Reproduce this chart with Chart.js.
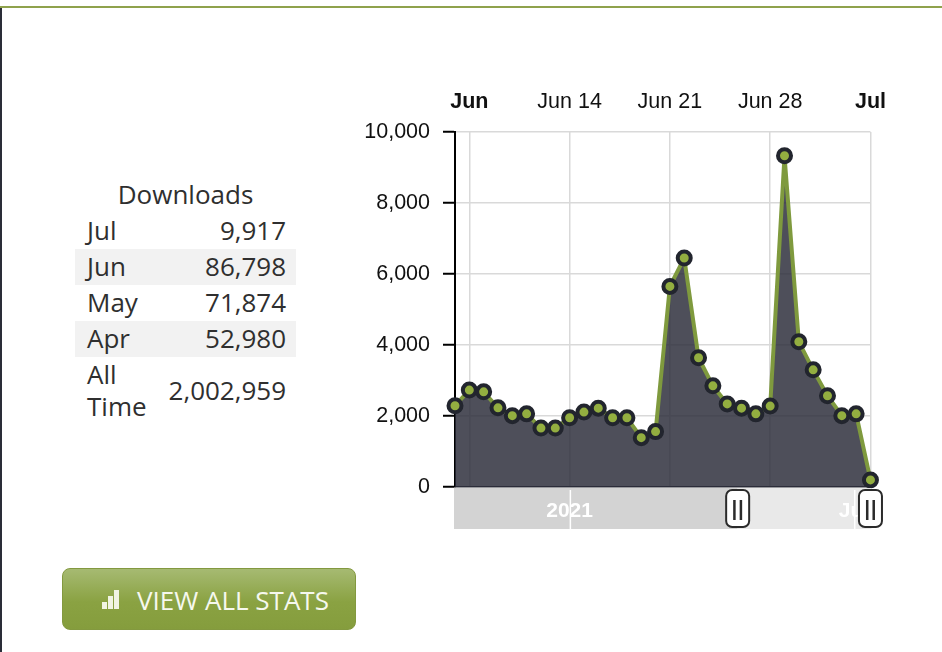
<!DOCTYPE html>
<html>
<head>
<meta charset="utf-8">
<script src="https://cdn.jsdelivr.net/npm/chart.js@4"></script>
<style>
html, body { margin: 0; padding: 0; background: #fff; overflow: hidden; }
body { width: 942px; height: 652px; position: relative; font-family: "Open Sans", sans-serif; color: #2f2f2f; }
#topLine { position: absolute; left: 0; top: 6px; width: 942px; height: 2px; background: #8fa24c; }
#leftLine { position: absolute; left: 0; top: 8px; width: 2px; height: 644px; background: #2a2d38; }
#stats { position: absolute; left: 75px; top: 177px; width: 221px; border-collapse: collapse; font-size: 26px; }
#stats caption { height: 36px; line-height: 34px; text-align: center; }
#stats td { padding: 0 10px 2px 12px; height: 34px; line-height: 32px; }
#stats td:last-child { text-align: right; }
#stats tr:nth-child(even) td { background: #f2f2f2; }
#stats tr:last-child td { height: 66px; }
#chartBox { position: absolute; left: 355px; top: 85px; width: 548px; height: 450px; }
#viewAll { position: absolute; left: 62px; top: 568px; width: 292px; height: 60px; border: 1px solid #83993f; border-radius: 8px;
  background: linear-gradient(#a6ba72, #8aa242 55%, #859d3d); color: #f6f8ee; font-size: 26px; line-height: 62px; }
#viewAll .label { position: absolute; left: 74px; top: 0; white-space: nowrap; }
#viewAll i { position: absolute; background: #f1f4e4; width: 4.5px; bottom: 20px; }
</style>
</head>
<body>
<div id="topLine"></div>
<div id="leftLine"></div>
<table id="stats"><caption>Downloads</caption><tbody></tbody></table>
<div id="chartBox"><canvas id="downloads"></canvas></div>
<div id="viewAll">
  <i style="left:39px;height:7px"></i><i style="left:45px;height:13px"></i><i style="left:51px;height:19px"></i>
  <span class="label">VIEW ALL STATS</span>
</div>
<script>
// table on the left
const periods = ["Jul", "Jun", "May", "Apr", "All Time"];
const totals = ["9,917", "86,798", "71,874", "52,980", "2,002,959"];

// daily downloads
const days = ["Jun 6","Jun 7","Jun 8","Jun 9","Jun 10","Jun 11","Jun 12","Jun 13","Jun 14","Jun 15",
  "Jun 16","Jun 17","Jun 18","Jun 19","Jun 20","Jun 21","Jun 22","Jun 23","Jun 24","Jun 25",
  "Jun 26","Jun 27","Jun 28","Jun 29","Jun 30","Jul 1","Jul 2","Jul 3","Jul 4","Jul 5"];
const downloads = [2290, 2730, 2680, 2230, 2010, 2060, 1660, 1660, 1950, 2110,
  2220, 1950, 1950, 1390, 1560, 5650, 6450, 3640, 2850, 2340,
  2220, 2060, 2280, 9330, 4090, 3300, 2570, 2010, 2060, 200];

// top axis labels
const tickDays = ["Jun 7", "Jun 14", "Jun 21", "Jun 28", "Jul 5"];
const tickLabels = ["Jun", "Jun 14", "Jun 21", "Jun 28", "Jul"];
const boldLabels = ["Jun", "Jul"];

// range selector under the plot
const rangeStart = "Jun 26";
const rangeOffset = -0.27;
const yearLabel = "2021";
const yearDay = "Jun 14";
const monthLabel = "Jul";
const monthDay = "Jul 4";
const monthOffset = -0.15;

const tbody = document.querySelector("#stats tbody");
periods.forEach(function (p, i) {
    const tr = document.createElement("tr");
    const a = document.createElement("td");
    const b = document.createElement("td");
    a.textContent = p;
    b.textContent = totals[i];
    if (p == "All Time") { a.style.width = "60px"; }
    tr.append(a, b);
    tbody.append(tr);
});

function labelFor(day) {
    const i = tickDays.indexOf(day);
    return i < 0 ? "" : tickLabels[i];
}

function drawHandle(ctx, x, top, bottom) {
    ctx.beginPath();
    ctx.roundRect(x - 11.5, top + 2, 23, bottom - top - 4, 6);
    ctx.fillStyle = "#fff";
    ctx.fill();
    ctx.lineWidth = 2;
    ctx.strokeStyle = "#2b2b2b";
    ctx.stroke();
    ctx.fillStyle = "#2b2b2b";
    ctx.fillRect(x - 4.5, top + 12, 2.5, 20);
    ctx.fillRect(x + 2, top + 12, 2.5, 20);
}

// draws the little navigator strip below the x range
const navigator = {
    id: "navigator",
    afterDraw: function (chart) {
        const ctx = chart.ctx;
        const area = chart.chartArea;
        const x = chart.scales.x;
        const top = area.bottom + 1;
        const bottom = area.bottom + 42;
        const split = x.getPixelForValue(days.indexOf(rangeStart) + rangeOffset);
        const yearX = x.getPixelForValue(days.indexOf(yearDay));
        const monthX = x.getPixelForValue(days.indexOf(monthDay) + monthOffset);
        ctx.save();
        ctx.fillStyle = "#d3d3d3";
        ctx.fillRect(area.left - 1, top, split - area.left + 1, bottom - top);
        ctx.fillStyle = "#e9e9e9";
        ctx.fillRect(split, top, area.right + 1 - split, bottom - top);
        ctx.fillStyle = "#fff";
        ctx.fillRect(yearX, top + 2, 1.5, bottom - top - 2);
        ctx.fillRect(monthX, top + 2, 1.5, bottom - top - 2);
        ctx.font = "bold 21px 'Liberation Sans'";
        ctx.textAlign = "center";
        ctx.textBaseline = "middle";
        ctx.fillText(yearLabel, yearX, top + 23);
        ctx.fillText(monthLabel, monthX, top + 23);
        drawHandle(ctx, split, top, bottom);
        drawHandle(ctx, area.right, top, bottom);
        ctx.restore();
    }
};

new Chart(document.getElementById("downloads"), {
    type: "line",
    plugins: [navigator],
    data: {
        labels: days,
        datasets: [{
            data: downloads,
            fill: "origin",
            backgroundColor: "rgba(42,43,57,0.83)",
            borderColor: "#7f9a3e",
            borderWidth: 4,
            tension: 0,
            pointRadius: 6.5,
            pointBorderWidth: 4,
            pointBackgroundColor: "#93ae40",
            pointBorderColor: "#22252e",
            clip: false
        }]
    },
    options: {
        responsive: true,
        maintainAspectRatio: false,
        animation: false,
        layout: { padding: { top: 0, left: 0, right: 29, bottom: 48 } },
        plugins: { legend: { display: false }, tooltip: { enabled: false } },
        scales: {
            x: {
                position: "top",
                afterFit: function (scale) { scale.height = 47; },
                border: { display: false },
                grid: {
                    drawTicks: false,
                    lineWidth: 1.5,
                    color: function (c) { return labelFor(days[c.index]) ? "#d9d9d9" : "transparent"; }
                },
                ticks: {
                    autoSkip: false,
                    maxRotation: 0,
                    padding: 17,
                    color: "#111",
                    callback: function (v) { return labelFor(days[v]); },
                    font: function (c) {
                        const bold = boldLabels.indexOf(labelFor(days[c.index])) >= 0;
                        return { family: "'Liberation Sans'", size: 21.5, weight: bold ? "bold" : "normal" };
                    }
                }
            },
            y: {
                min: 0,
                max: 10000,
                afterFit: function (scale) { scale.width = 100; },
                border: { color: "#000", width: 2 },
                grid: {
                    lineWidth: 1.5,
                    tickLength: 12,
                    tickWidth: 2,
                    tickColor: "#000",
                    color: function (c) { return c.tick.value == 0 ? "#33343d" : "#d9d9d9"; }
                },
                ticks: {
                    stepSize: 2000,
                    padding: 13,
                    color: "#111",
                    font: { family: "'Liberation Sans'", size: 21.5 },
                    callback: function (v) { return v.toLocaleString("en-US"); }
                }
            }
        }
    }
});
</script>
</body>
</html>
